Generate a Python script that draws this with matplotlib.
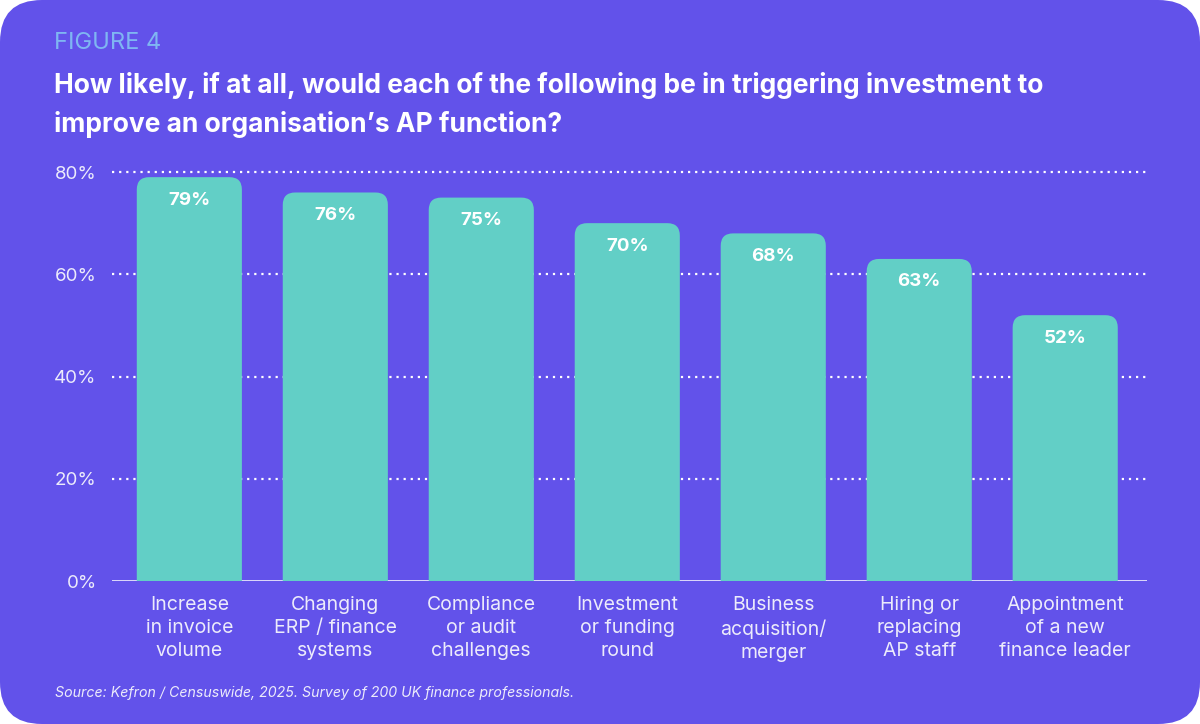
import matplotlib.pyplot as plt
from matplotlib.patches import FancyBboxPatch

# === dane ===
categories = [
    "Increase\nin invoice\nvolume",
    "Changing\nERP / finance\nsystems",
    "Compliance\nor audit\nchallenges",
    "Investment\nor funding\nround",
    "Business\nacquisition/\nmerger",
    "Hiring or\nreplacing\nAP staff",
    "Appointment\nof a new\nfinance leader",
]
values = [79, 76, 75, 70, 68, 63, 52]
y_ticks = [0, 20, 40, 60, 80]
y_tick_labels = ["0%", "20%", "40%", "60%", "80%"]

# === kolory ===
bg = "#6252EA"
bar_color = "#62CFC6"
text_light = "#ECEBFB"
fig_label = "#7FB6F2"

plt.rcParams["font.family"] = ["Inter", "DejaVu Sans"]

fig = plt.figure(figsize=(12, 7.24), dpi=100)
fig.patch.set_facecolor("white")

# karta w tle
card = FancyBboxPatch(
    (0.0, 0.0), 1.0, 1.0,
    boxstyle="round,pad=0,rounding_size=0.035",
    mutation_aspect=1200 / 724,
    transform=fig.transFigure, facecolor=bg, edgecolor="none", zorder=-10,
)
fig.patches.append(card)

ax = fig.add_axes([0.0933, 0.1975, 0.8625, 0.579])
ax.set_zorder(5)
ax.set_facecolor("none")
ax.set_xlim(-0.53, 6.56)
ax.set_ylim(0, 82)

# linie siatki
for t in y_ticks[1:]:
    ax.axhline(t, color="white", linestyle=(0, (1, 2.2)), linewidth=1.6, zorder=1)
ax.axhline(0, color="#E8E6FB", linewidth=2, zorder=1)

# słupki z zaokrąglonymi rogami
width = 0.72
for i, v in enumerate(values):
    p = FancyBboxPatch(
        (i - width / 2, -6), width, v + 6,
        boxstyle="round,pad=0,rounding_size=0.085",
        mutation_aspect=28.6,
        facecolor=bar_color, edgecolor="none", zorder=2, clip_on=True,
    )
    ax.add_patch(p)
    ax.text(i, v - 4.5, f"{v}%", ha="center", va="center", color="white",
            fontsize=13.5, fontweight="bold", zorder=3)

ax.set_xticks(range(len(categories)))
ax.set_xticklabels(categories, fontsize=14, color=text_light, linespacing=1.36)
ax.set_yticks(y_ticks)
ax.set_yticklabels(y_tick_labels, fontsize=13.5, color=text_light)
ax.tick_params(axis="both", length=0)
ax.tick_params(axis="x", pad=11)
ax.tick_params(axis="y", pad=11)
for s in ax.spines.values():
    s.set_visible(False)

# tytuły
fig.text(54 / 1200, 1 - 43 / 724, "FIGURE 4", fontsize=17, color=fig_label,
         ha="left", va="center")
fig.text(54 / 1200, 1 - 105 / 724,
         "How likely, if at all, would each of the following be in triggering investment to\n"
         "improve an organisation\u2019s AP function?",
         fontsize=19, fontweight="bold", color="white", ha="left", va="center",
         linespacing=1.6)

fig.text(55 / 1200, 1 - 693 / 724,
         "Source: Kefron / Censuswide, 2025. Survey of 200 UK finance professionals.",
         fontsize=10.2, style="italic", color=text_light, ha="left", va="center")

fig.savefig("out.png", dpi=100, facecolor=fig.get_facecolor())
